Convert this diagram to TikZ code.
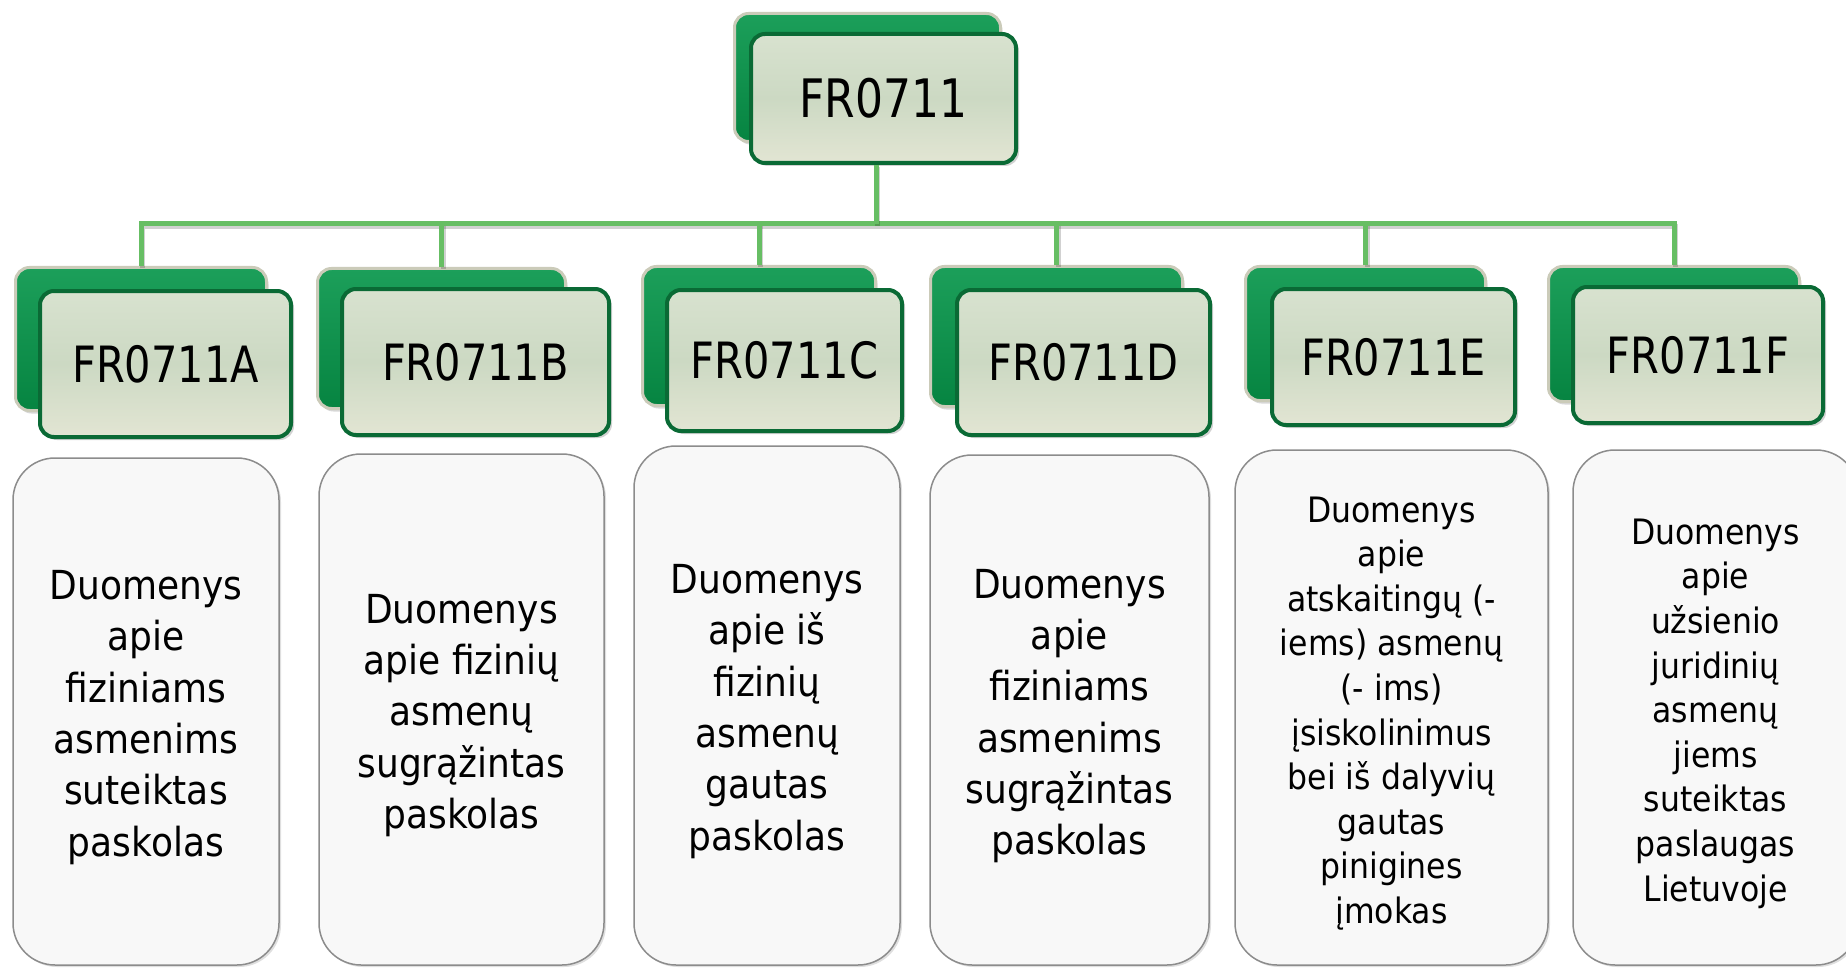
\documentclass[tikz,border=0pt]{standalone}
\usepackage{fontspec}
\setmainfont{DejaVu Sans}[FakeStretch=0.9]
\newfontfamily\hdfont{DejaVu Sans}[FakeStretch=0.83]
\usetikzlibrary{shadows}
\definecolor{backrim}{HTML}{CBCBB9}
\definecolor{backtop}{HTML}{1C9F5A}
\definecolor{backbot}{HTML}{068441}
\definecolor{frontrim}{HTML}{0A6A35}
\definecolor{fronttop}{HTML}{D8E2CF}
\definecolor{frontmid}{HTML}{CCD9C3}
\definecolor{frontbot}{HTML}{E2E5D3}
\definecolor{infoline}{HTML}{8C8C8C}
\definecolor{infofill}{HTML}{F8F8F8}
\definecolor{linkgreen}{HTML}{67BE64}
\begin{document}
\begin{tikzpicture}[x=1pt,y=-1pt,
  backbox/.style={draw=backrim, line width=3pt, rounded corners=14pt,
    top color=backtop, bottom color=backbot, inner sep=0pt,
    drop shadow={shadow xshift=2pt,shadow yshift=-3pt,opacity=0.3}},
  frontbox/.style={draw=frontrim, line width=4pt, rounded corners=14pt,
    top color=fronttop, bottom color=frontbot, middle color=frontmid, inner sep=0pt,
    font=\hdfont\fontsize{50}{60}\selectfont,
    drop shadow={shadow xshift=3pt,shadow yshift=-3pt,opacity=0.35}},
  topfont/.style={font=\hdfont\fontsize{53}{63}\selectfont},
  infobox/.style={draw=infoline, line width=1.5pt, rounded corners=42pt,
    fill=infofill, inner sep=0pt,
    drop shadow={shadow xshift=2pt,shadow yshift=-2pt,opacity=0.25}},
  infotext/.style={align=center, inner sep=0pt, font=\fontsize{40}{51.3}\selectfont},
  smalltext/.style={font=\fontsize{35}{44.6}\selectfont},
  link/.style={draw=linkgreen, line width=5pt, line join=miter,
    preaction={draw=black, opacity=0.18, line width=5pt, transform canvas={xshift=1.5pt,yshift=-2.5pt}}}]
\useasboundingbox (0,0) rectangle (1846,968);
\fill[white] (0,0) rectangle (1846,968);

% top
\node[backbox, minimum width=266pt, minimum height=128pt] (topb) at (867.5,77.5) {};
\node[frontbox, topfont, minimum width=265pt, minimum height=129pt] (topf) at (883.5,98.5) {FR0711};

% children headers
\node[backbox, minimum width=251pt, minimum height=143pt] (Ab) at (141,339) {};
\node[frontbox, minimum width=251pt, minimum height=146pt] (Af) at (165.5,364) {FR0711A};
\node[backbox, minimum width=248pt, minimum height=140pt] (Bb) at (441.5,338.5) {};
\node[frontbox, minimum width=267pt, minimum height=146pt] (Bf) at (475.5,362) {FR0711B};
\node[backbox, minimum width=233pt, minimum height=139pt] (Cb) at (759,336) {};
\node[frontbox, minimum width=235pt, minimum height=141pt] (Cf) at (784.5,360.5) {FR0711C};
\node[backbox, minimum width=252pt, minimum height=140pt] (Db) at (1056.5,336.5) {};
\node[frontbox, minimum width=253pt, minimum height=145pt] (Df) at (1083.5,362.5) {FR0711D};
\node[backbox, minimum width=240pt, minimum height=134pt] (Eb) at (1365.5,333.5) {};
\node[frontbox, minimum width=243pt, minimum height=136pt] (Ef) at (1393.5,357) {FR0711E};
\node[backbox, minimum width=251pt, minimum height=135pt] (Fb) at (1674,334) {};
\node[frontbox, minimum width=250pt, minimum height=136pt] (Ff) at (1698,355) {FR0711F};

% connectors
\coordinate (hub) at (876,224);
\draw[link] (Ab.north) -- (hub -| Ab.north) -- (hub -| Fb.north) -- (Fb.north);
\draw[link] (topf.south -| hub) -- (hub);
\foreach \n in {Bb,Cb,Db,Eb} \draw[link] (hub -| \n.north) -- (\n.north);

% info boxes
\node[infobox, minimum width=266pt, minimum height=507pt] (boxA) at (146,711.5) {};
\node[infobox, minimum width=285pt, minimum height=511pt] (boxB) at (461.5,709.5) {};
\node[infobox, minimum width=266pt, minimum height=519pt] (boxC) at (767,705.5) {};
\node[infobox, minimum width=279pt, minimum height=510pt] (boxD) at (1069.5,710) {};
\node[infobox, minimum width=313pt, minimum height=515pt] (boxE) at (1391.5,707.5) {};
\node[infobox, minimum width=285pt, minimum height=515pt] (boxF) at (1715.5,707.5) {};

\node[infotext] (txtA) at ([yshift=-6pt]boxA.center)
  {Duomenys\\apie\\fiziniams\\asmenims\\suteiktas\\paskolas};
\node[infotext] (txtB) at ([yshift=-6pt]boxB.center)
  {Duomenys\\apie fizinių\\asmenų\\sugrąžintas\\paskolas};
\node[infotext] (txtC) at ([yshift=-6pt]boxC.center)
  {Duomenys\\apie iš\\fizinių\\asmenų\\gautas\\paskolas};
\node[infotext] (txtD) at ([yshift=-6pt]boxD.center)
  {Duomenys\\apie\\fiziniams\\asmenims\\sugrąžintas\\paskolas};
\node[infotext, smalltext] (txtE) at ([yshift=-6pt]boxE.center)
  {Duomenys\\apie\\atskaitingų (-\\iems) asmenų\\(- ims)\\įsiskolinimus\\bei iš dalyvių\\gautas\\pinigines\\įmokas};
\node[infotext, smalltext] (txtF) at ([yshift=-6pt]boxF.center)
  {Duomenys\\apie\\užsienio\\juridinių\\asmenų\\jiems\\suteiktas\\paslaugas\\Lietuvoje};
\end{tikzpicture}
\end{document}
